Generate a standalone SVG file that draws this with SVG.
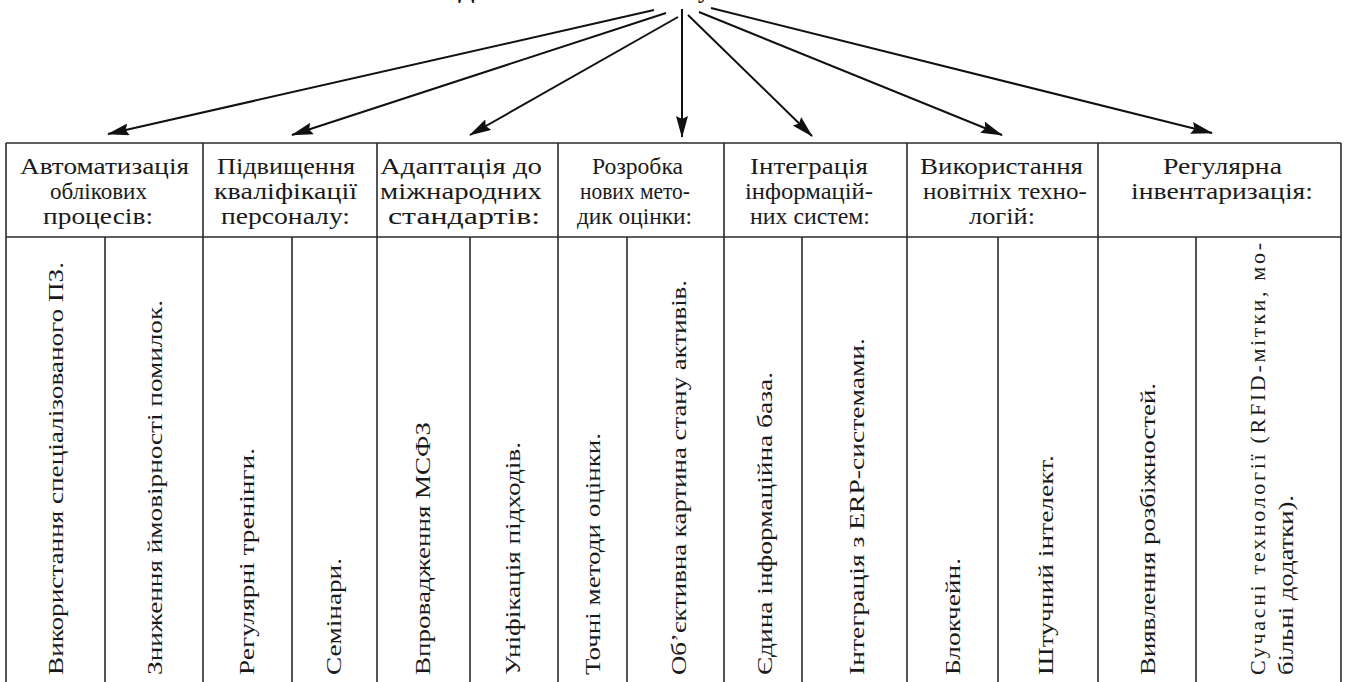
<svg xmlns="http://www.w3.org/2000/svg" width="1346" height="682" viewBox="0 0 1346 682">
<style>
.bg{fill:#fff}
.ln{stroke:#2a2a2a;stroke-width:1.6;fill:none}
.ar{stroke:#111;stroke-width:2;fill:none;marker-end:url(#ah)}
.h{font-family:'Liberation Serif',serif;fill:#1a1a1a;text-anchor:middle;font-size:23px}
.v{font-family:'Liberation Serif',serif;fill:#1a1a1a;font-size:22px}
.t{font-family:'Liberation Serif',serif;font-size:24px;font-weight:bold;fill:#111}
</style>
<defs>
<marker id="ah" viewBox="0 0 22 12" refX="21" refY="6" markerWidth="22" markerHeight="12" markerUnits="userSpaceOnUse" orient="auto">
<path d="M0,0 L22,6 L0,12 L3,6 z" fill="#111"/>
</marker>
</defs>
<rect class="bg" x="0" y="0" width="1346" height="682"/>
<g id="title">
<text class="t" x="458" y="-2">Д</text>
<text class="t" x="698" y="-2">у</text>
</g>
<g id="connectors">
<line class="ar" x1="654" y1="10" x2="108" y2="134"/>
<line class="ar" x1="666" y1="13" x2="292" y2="135"/>
<line class="ar" x1="678" y1="17" x2="470" y2="135"/>
<line class="ar" x1="682" y1="9" x2="682" y2="137"/>
<line class="ar" x1="688" y1="15" x2="812" y2="136"/>
<line class="ar" x1="699" y1="12" x2="1002" y2="135"/>
<line class="ar" x1="711" y1="8" x2="1212" y2="133"/>
</g>
<g id="table">
<line class="ln" x1="6" y1="143" x2="1341" y2="143"/>
<line class="ln" x1="6" y1="237" x2="1341" y2="237"/>
<line class="ln" x1="6" y1="143" x2="6" y2="682"/>
<line class="ln" x1="203" y1="143" x2="203" y2="682"/>
<line class="ln" x1="377" y1="143" x2="377" y2="682"/>
<line class="ln" x1="558" y1="143" x2="558" y2="682"/>
<line class="ln" x1="724" y1="143" x2="724" y2="682"/>
<line class="ln" x1="907" y1="143" x2="907" y2="682"/>
<line class="ln" x1="1098" y1="143" x2="1098" y2="682"/>
<line class="ln" x1="1341" y1="143" x2="1341" y2="682"/>
<line class="ln" x1="105" y1="237" x2="105" y2="682"/>
<line class="ln" x1="292" y1="237" x2="292" y2="682"/>
<line class="ln" x1="470" y1="237" x2="470" y2="682"/>
<line class="ln" x1="627" y1="237" x2="627" y2="682"/>
<line class="ln" x1="802" y1="237" x2="802" y2="682"/>
<line class="ln" x1="998" y1="237" x2="998" y2="682"/>
<line class="ln" x1="1196" y1="237" x2="1196" y2="682"/>
</g>
<g id="node-1">
<text class="h" x="104.5" y="174" textLength="169" lengthAdjust="spacingAndGlyphs">Автоматизація</text>
<text class="h" x="98.5" y="199" textLength="97" lengthAdjust="spacingAndGlyphs">облікових</text>
<text class="h" x="98" y="224" textLength="110" lengthAdjust="spacingAndGlyphs">процесів:</text>
<text class="v" transform="translate(63,675) rotate(-90)" textLength="413" lengthAdjust="spacingAndGlyphs">Використання спеціалізованого ПЗ.</text>
<text class="v" transform="translate(162,675) rotate(-90)" textLength="375" lengthAdjust="spacingAndGlyphs">Зниження ймовірності помилок.</text>
</g>
<g id="node-2">
<text class="h" x="286" y="174" textLength="138" lengthAdjust="spacingAndGlyphs">Підвищення</text>
<text class="h" x="285.5" y="199" textLength="143" lengthAdjust="spacingAndGlyphs">кваліфікації</text>
<text class="h" x="285.5" y="224" textLength="129" lengthAdjust="spacingAndGlyphs">персоналу:</text>
<text class="v" transform="translate(254,675) rotate(-90)" textLength="227" lengthAdjust="spacingAndGlyphs">Регулярні тренінги.</text>
<text class="v" transform="translate(341,675) rotate(-90)" textLength="117" lengthAdjust="spacingAndGlyphs">Семінари.</text>
</g>
<g id="node-3">
<text class="h" x="461" y="174" textLength="162" lengthAdjust="spacingAndGlyphs">Адаптація до</text>
<text class="h" x="461" y="199" textLength="162" lengthAdjust="spacingAndGlyphs">міжнародних</text>
<text class="h" x="464" y="224" textLength="152" lengthAdjust="spacingAndGlyphs">стандартів:</text>
<text class="v" transform="translate(430,675) rotate(-90)" textLength="253" lengthAdjust="spacingAndGlyphs">Впровадження МСФЗ</text>
<text class="v" transform="translate(520,675) rotate(-90)" textLength="233" lengthAdjust="spacingAndGlyphs">Уніфікація підходів.</text>
</g>
<g id="node-4">
<text class="h" x="637.5" y="174" textLength="91" lengthAdjust="spacingAndGlyphs">Розробка</text>
<text class="h" x="635" y="199" textLength="110" lengthAdjust="spacingAndGlyphs">нових мето-</text>
<text class="h" x="634.5" y="224" textLength="115" lengthAdjust="spacingAndGlyphs">дик оцінки:</text>
<text class="v" transform="translate(600,675) rotate(-90)" textLength="242" lengthAdjust="spacingAndGlyphs">Точні методи оцінки.</text>
<text class="v" transform="translate(686,675) rotate(-90)" textLength="395" lengthAdjust="spacingAndGlyphs">Об’єктивна картина стану активів.</text>
</g>
<g id="node-5">
<text class="h" x="809" y="174" textLength="118" lengthAdjust="spacingAndGlyphs">Інтеграція</text>
<text class="h" x="809" y="199" textLength="128" lengthAdjust="spacingAndGlyphs">інформацій-</text>
<text class="h" x="810" y="224" textLength="120" lengthAdjust="spacingAndGlyphs">них систем:</text>
<text class="v" transform="translate(772,675) rotate(-90)" textLength="303" lengthAdjust="spacingAndGlyphs">Єдина інформаційна база.</text>
<text class="v" transform="translate(864,675) rotate(-90)" textLength="337" lengthAdjust="spacingAndGlyphs">Інтеграція з ERP-системами.</text>
</g>
<g id="node-6">
<text class="h" x="1001.5" y="174" textLength="163" lengthAdjust="spacingAndGlyphs">Використання</text>
<text class="h" x="1005" y="199" textLength="164" lengthAdjust="spacingAndGlyphs">новітніх техно-</text>
<text class="h" x="1002" y="224" textLength="66" lengthAdjust="spacingAndGlyphs">логій:</text>
<text class="v" transform="translate(960,675) rotate(-90)" textLength="117" lengthAdjust="spacingAndGlyphs">Блокчейн.</text>
<text class="v" transform="translate(1053,675) rotate(-90)" textLength="220" lengthAdjust="spacingAndGlyphs">Штучний інтелект.</text>
</g>
<g id="node-7">
<text class="h" x="1222.5" y="174" textLength="119" lengthAdjust="spacingAndGlyphs">Регулярна</text>
<text class="h" x="1222" y="199" textLength="182" lengthAdjust="spacingAndGlyphs">інвентаризація:</text>
<text class="v" transform="translate(1155,675) rotate(-90)" textLength="292" lengthAdjust="spacingAndGlyphs">Виявлення розбіжностей.</text>
<text class="v" transform="translate(1265,675) rotate(-90)" textLength="432" lengthAdjust="spacing">Сучасні технології (RFID-мітки, мо-</text>
<text class="v" transform="translate(1293,675) rotate(-90)" textLength="180" lengthAdjust="spacingAndGlyphs">більні додатки).</text>
</g>
</svg>
